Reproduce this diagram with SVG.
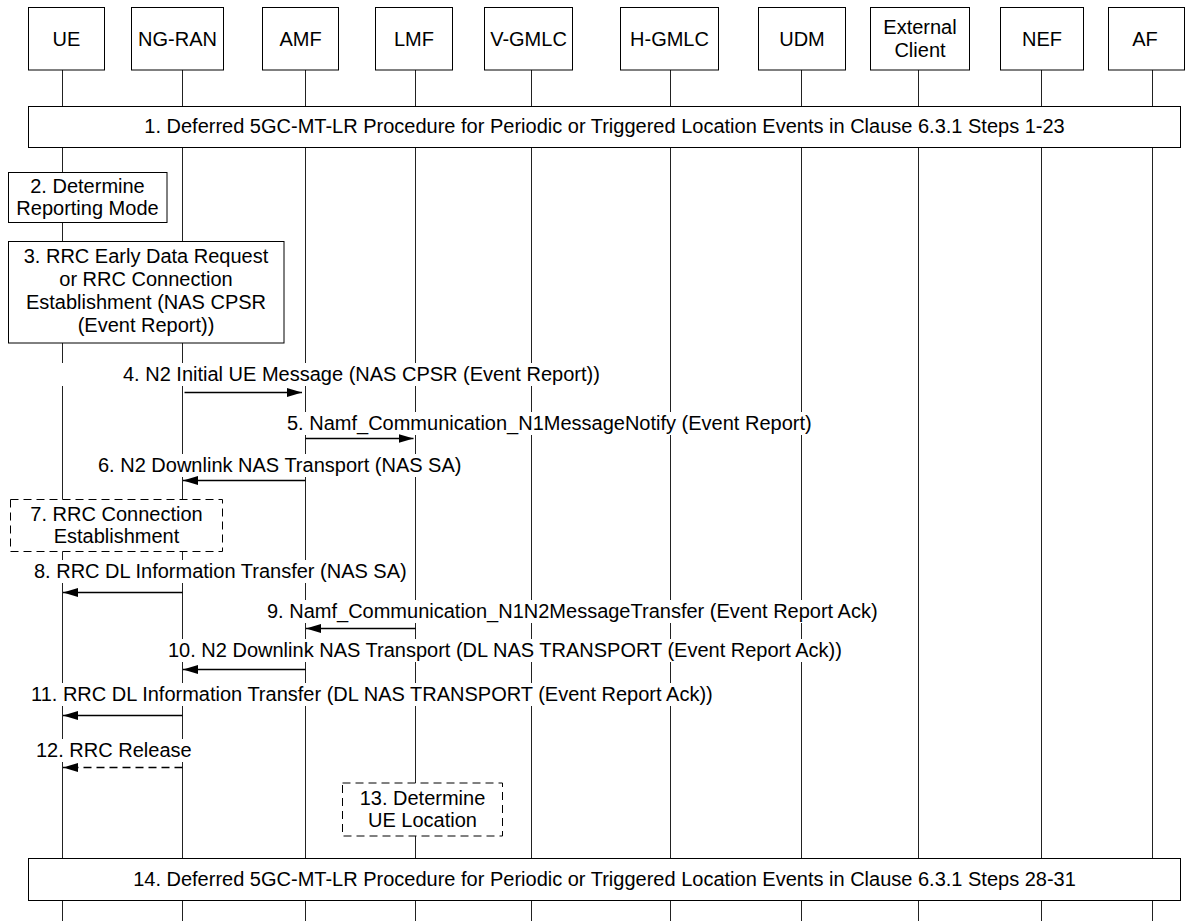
<svg xmlns="http://www.w3.org/2000/svg" width="1186" height="921" viewBox="0 0 1186 921">
<style>
  text { font-family: "Liberation Sans", Arial, sans-serif; font-size: 20px; fill: #000; }
  .c { text-anchor: middle; }
  .box { fill: #fff; stroke: #000; stroke-width: 1; }
  .dbox { fill: #fff; stroke: #000; stroke-width: 1; stroke-dasharray: 8 5; }
  .life { stroke: #222; stroke-width: 1; fill: none; }
  .msg { stroke: #000; stroke-width: 1.3; fill: none; marker-end: url(#arr); }
  .dash { stroke-dasharray: 8 5; }
  .bg { fill: #fff; stroke: none; }
</style>
<defs>
  <marker id="arr" markerUnits="userSpaceOnUse" markerWidth="15" markerHeight="9" refX="15" refY="4.5" orient="auto">
    <path d="M0,0 L15,4.5 L0,9 z" fill="#000"/>
  </marker>
</defs>
<rect width="1186" height="921" fill="#fff"/>

<g id="UE"><line class="life" x1="62.5" y1="70" x2="62.5" y2="921"/><rect class="box" x="28.5" y="7.5" width="76" height="62.5"/><text class="c" x="66.5" y="46">UE</text></g>
<g id="NG-RAN"><line class="life" x1="182.5" y1="70" x2="182.5" y2="921"/><rect class="box" x="131.5" y="7.5" width="92" height="62.5"/><text class="c" x="177.5" y="46">NG-RAN</text></g>
<g id="AMF"><line class="life" x1="305.5" y1="70" x2="305.5" y2="921"/><rect class="box" x="262.5" y="7.5" width="76" height="62.5"/><text class="c" x="300.5" y="46">AMF</text></g>
<g id="LMF"><line class="life" x1="415.5" y1="70" x2="415.5" y2="921"/><rect class="box" x="375.5" y="7.5" width="77" height="62.5"/><text class="c" x="414" y="46">LMF</text></g>
<g id="V-GMLC"><line class="life" x1="531.5" y1="70" x2="531.5" y2="921"/><rect class="box" x="484.5" y="7.5" width="88" height="62.5"/><text class="c" x="528.5" y="46">V-GMLC</text></g>
<g id="H-GMLC"><line class="life" x1="670.5" y1="70" x2="670.5" y2="921"/><rect class="box" x="620.5" y="7.5" width="98" height="62.5"/><text class="c" x="669.5" y="46">H-GMLC</text></g>
<g id="UDM"><line class="life" x1="801.5" y1="70" x2="801.5" y2="921"/><rect class="box" x="758.5" y="7.5" width="87" height="62.5"/><text class="c" x="802" y="46">UDM</text></g>
<g id="ExternalClient"><line class="life" x1="918.5" y1="70" x2="918.5" y2="921"/><rect class="box" x="870.5" y="7.5" width="99" height="62.5"/><text class="c" x="920" y="34">External</text><text class="c" x="920" y="57">Client</text></g>
<g id="NEF"><line class="life" x1="1041.5" y1="70" x2="1041.5" y2="921"/><rect class="box" x="1000.5" y="7.5" width="83" height="62.5"/><text class="c" x="1042" y="46">NEF</text></g>
<g id="AF"><line class="life" x1="1152.5" y1="70" x2="1152.5" y2="921"/><rect class="box" x="1108.5" y="7.5" width="76" height="62.5"/><text class="c" x="1145" y="46">AF</text></g>

<g id="step1"><rect class="box" x="28.5" y="106.5" width="1152" height="41"/><text class="c" x="604.5" y="133">1. Deferred 5GC-MT-LR Procedure for Periodic or Triggered Location Events in Clause 6.3.1 Steps 1-23</text></g>
<g id="step2"><rect class="box" x="8.5" y="172.5" width="158.5" height="50"/><text class="c" x="87.5" y="193">2. Determine</text><text class="c" x="87.5" y="215">Reporting Mode</text></g>
<g id="step3"><rect class="box" x="8.5" y="241.5" width="275.5" height="101.5"/><text class="c" x="146" y="262.5">3. RRC Early Data Request</text><text class="c" x="146" y="285.5">or RRC Connection</text><text class="c" x="146" y="308.5">Establishment (NAS CPSR</text><text class="c" x="146" y="331.5">(Event Report))</text></g>
<g id="step7"><rect class="dbox" x="10.5" y="499.5" width="212" height="52"/><text class="c" x="116.5" y="521">7. RRC Connection</text><text class="c" x="116.5" y="543">Establishment</text></g>
<g id="step13"><rect class="dbox" x="342.5" y="783" width="160" height="53"/><text class="c" x="422.5" y="804.5">13. Determine</text><text class="c" x="422.5" y="827">UE Location</text></g>
<g id="step14"><rect class="box" x="28.5" y="858.5" width="1152" height="42"/><text class="c" x="604.5" y="886">14. Deferred 5GC-MT-LR Procedure for Periodic or Triggered Location Events in Clause 6.3.1 Steps 28-31</text></g>

<g id="connectors">
  <rect class="bg" x="55" y="363" width="553" height="23"/>
  <text x="123" y="381">4. N2 Initial UE Message (NAS CPSR (Event Report))</text>
  <line class="msg" x1="184.5" y1="392.5" x2="302" y2="392.5"/>

  <rect class="bg" x="284" y="412" width="536" height="23"/>
  <text x="287" y="430">5. Namf_Communication_N1MessageNotify (Event Report)</text>
  <line class="msg" x1="305.5" y1="438.5" x2="413.5" y2="438.5"/>

  <rect class="bg" x="95" y="454" width="372" height="23"/>
  <text x="98" y="472">6. N2 Downlink NAS Transport (NAS SA)</text>
  <line class="msg" x1="305.5" y1="480.5" x2="183" y2="480.5"/>

  <rect class="bg" x="31" y="560" width="383" height="23"/>
  <text x="34" y="578">8. RRC DL Information Transfer (NAS SA)</text>
  <line class="msg" x1="182.5" y1="592.5" x2="63" y2="592.5"/>

  <rect class="bg" x="264" y="600" width="620" height="23"/>
  <text x="267" y="618">9. Namf_Communication_N1N2MessageTransfer (Event Report Ack)</text>
  <line class="msg" x1="415.5" y1="628.5" x2="306" y2="628.5"/>

  <rect class="bg" x="165" y="639" width="688" height="23"/>
  <text x="168" y="657">10. N2 Downlink NAS Transport (DL NAS TRANSPORT (Event Report Ack))</text>
  <line class="msg" x1="305.5" y1="669.5" x2="183" y2="669.5"/>

  <rect class="bg" x="28" y="683" width="699" height="23"/>
  <text x="31" y="701">11. RRC DL Information Transfer (DL NAS TRANSPORT (Event Report Ack))</text>
  <line class="msg" x1="182.5" y1="715.5" x2="63" y2="715.5"/>

  <rect class="bg" x="33" y="739" width="161" height="23"/>
  <text x="36" y="757">12. RRC Release</text>
  <line class="msg dash" x1="182.5" y1="767.5" x2="63" y2="767.5"/>
</g>
</svg>
